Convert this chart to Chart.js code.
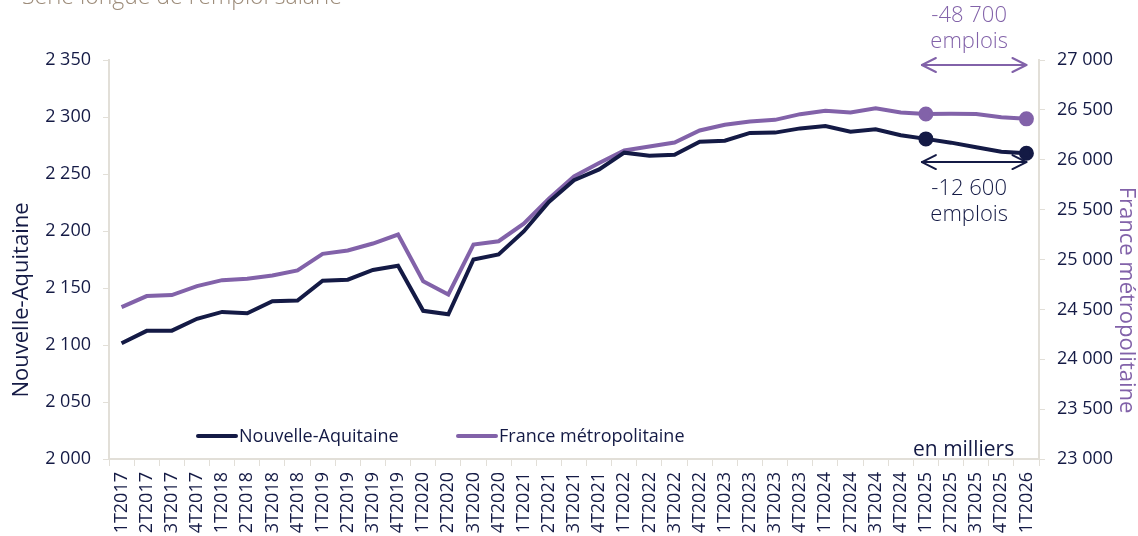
<!DOCTYPE html>
<html>
<head>
<meta charset="utf-8">
<script src="https://cdn.jsdelivr.net/npm/chart.js@4.4.1/dist/chart.umd.min.js"></script>
<style>
html,body{margin:0;padding:0;background:#fff;}
#wrap{width:1138px;height:536px;position:relative;}
</style>
</head>
<body>
<div id="wrap"><canvas id="c" width="1138" height="536"></canvas></div>
<script>
const categories = ["1T2017","2T2017","3T2017","4T2017","1T2018","2T2018","3T2018","4T2018","1T2019","2T2019","3T2019","4T2019","1T2020","2T2020","3T2020","4T2020","1T2021","2T2021","3T2021","4T2021","1T2022","2T2022","3T2022","4T2022","1T2023","2T2023","3T2023","4T2023","1T2024","2T2024","3T2024","4T2024","1T2025","2T2025","3T2025","4T2025","1T2026"];
const nouvelleAquitaine = [2101.5,2112.4,2112.6,2123.0,2129.0,2127.8,2138.4,2139.0,2156.4,2157.3,2165.8,2169.6,2130.0,2127.0,2175.0,2179.4,2199.6,2225.5,2244.6,2254.0,2268.7,2266.0,2266.8,2278.3,2279.2,2286.0,2286.3,2290.0,2292.0,2287.0,2289.2,2284.0,2280.8,2277.5,2273.5,2269.6,2268.2];
const franceMetro = [24523,24633,24643,24733,24793,24807,24840,24890,25057,25090,25160,25250,24783,24650,25150,25183,25360,25610,25833,25967,26093,26133,26173,26293,26350,26383,26400,26457,26490,26473,26517,26473,26459,26460,26458,26427,26410];
const leftTicks = {min:2000, max:2350, step:50};
const rightTicks = {min:23000, max:27000, step:500};
const seriesNames = ["Nouvelle-Aquitaine","France métropolitaine"];
const markedIdx = [32,36];
const annotations = [
  {axis:'y2', value:26950, from:32, to:36, lines:["-48 700","emplois"], color:'#8262a9', textAbove:true},
  {axis:'y', value:2260.5, from:32, to:36, lines:["-12 600","emplois"], color:'#141a45', textAbove:false}
];
const titleText = "Série longue de l'emploi salarié";

const NAVY = '#141a45';
const PURPLE = '#8262a9';
const AXIS = '#e2dfd8';
const FONT = '"Open Sans", "Noto Sans", sans-serif';

function fmt(v){ return String(v).replace(/\B(?=(\d{3})+(?!\d))/g,' '); }
function radii(n){ return categories.map((_,i)=> markedIdx.includes(i) ? n : 0); }

const overlay = {
  id:'overlay',
  afterDraw(chart){
    const ctx = chart.ctx, xs = chart.scales.x;
    ctx.save();
    // clipped title
    ctx.font = '300 23px ' + FONT;
    ctx.fillStyle = '#9d8c7a';
    ctx.textAlign='left'; ctx.textBaseline='alphabetic';
    ctx.fillText(titleText, 22, 4);
    // axis titles
    ctx.font = '22px ' + FONT;
    ctx.fillStyle = NAVY;
    ctx.textAlign='center'; ctx.textBaseline='middle';
    ctx.save(); ctx.translate(22, 300); ctx.rotate(-Math.PI/2); ctx.fillText('Nouvelle-Aquitaine',0,0); ctx.restore();
    ctx.fillStyle = PURPLE;
    ctx.save(); ctx.translate(1126, 300); ctx.rotate(Math.PI/2); ctx.fillText('France métropolitaine',0,0); ctx.restore();
    // legend
    const ly = 436;
    ctx.font = '18px ' + FONT; ctx.textAlign='left'; ctx.textBaseline='middle';
    [[198, NAVY, seriesNames[0]],[458, PURPLE, seriesNames[1]]].forEach(([lx,col,txt])=>{
      ctx.strokeStyle=col; ctx.lineWidth=4; ctx.lineCap='round';
      ctx.beginPath(); ctx.moveTo(lx,ly); ctx.lineTo(lx+38,ly); ctx.stroke();
      ctx.fillStyle = NAVY; ctx.fillText(txt, lx+41, ly+1);
    });
    // en milliers
    ctx.font = '21px ' + FONT; ctx.fillStyle = NAVY; ctx.textAlign='left';
    ctx.fillText('en milliers', 913, 450);
    // annotations
    annotations.forEach(a=>{
      const y = chart.scales[a.axis].getPixelForValue(a.value);
      const x1 = xs.getPixelForValue(a.from)-4, x2 = xs.getPixelForValue(a.to);
      ctx.strokeStyle=a.color; ctx.lineWidth=2; ctx.lineCap='round'; ctx.lineJoin='round';
      ctx.beginPath(); ctx.moveTo(x1,y); ctx.lineTo(x2,y); ctx.stroke();
      ctx.beginPath(); ctx.moveTo(x1+14,y-7); ctx.lineTo(x1,y); ctx.lineTo(x1+14,y+7); ctx.stroke();
      ctx.beginPath(); ctx.moveTo(x2-14,y-7); ctx.lineTo(x2,y); ctx.lineTo(x2-14,y+7); ctx.stroke();
      const cx = (x1+x2)/2 - 5;
      ctx.font = '300 22px ' + FONT; ctx.fillStyle = a.color; ctx.textAlign='center'; ctx.textBaseline='middle';
      if(a.textAbove){
        ctx.fillText(a.lines[0], cx, y-49); ctx.fillText(a.lines[1], cx, y-23);
      } else {
        ctx.fillText(a.lines[0], cx, y+27); ctx.fillText(a.lines[1], cx, y+53);
      }
    });
    ctx.restore();
  }
};

new Chart(document.getElementById('c'), {
  type:'line',
  data:{
    labels: categories,
    datasets:[
      {label:seriesNames[1], data:franceMetro, yAxisID:'y2', borderColor:PURPLE, backgroundColor:PURPLE, borderWidth:4, pointRadius:radii(5.5), pointHoverRadius:0, tension:0, order:2},
      {label:seriesNames[0], data:nouvelleAquitaine, yAxisID:'y', borderColor:NAVY, backgroundColor:NAVY, borderWidth:4, pointRadius:radii(5.5), pointHoverRadius:0, tension:0, order:1}
    ]
  },
  options:{
    responsive:false, animation:false, devicePixelRatio:1,
    layout:{padding:{top:60,left:0,right:0,bottom:0}},
    plugins:{legend:{display:false}, tooltip:{enabled:false}, title:{display:false}},
    scales:{
      x:{
        type:'category', offset:true,
        grid:{offset:true, drawOnChartArea:false, drawTicks:true, tickLength:7, color:AXIS, lineWidth:1},
        border:{display:true, color:AXIS, width:2},
        ticks:{autoSkip:false, maxRotation:90, minRotation:90, padding:6, color:NAVY, font:{family:FONT, size:18}},
        afterFit(s){ s.height = 77; }
      },
      y:{
        position:'left', min:leftTicks.min, max:leftTicks.max,
        grid:{drawOnChartArea:false, drawTicks:true, tickLength:6, color:AXIS},
        border:{display:true, color:AXIS, width:2},
        ticks:{stepSize:leftTicks.step, padding:12, color:NAVY, font:{family:FONT, size:18}, callback:v=>fmt(v)},
        afterFit(s){ s.width = 109; }
      },
      y2:{
        position:'right', min:rightTicks.min, max:rightTicks.max,
        grid:{drawOnChartArea:false, drawTicks:true, tickLength:6, color:AXIS},
        border:{display:true, color:AXIS, width:2},
        ticks:{stepSize:rightTicks.step, padding:12, color:NAVY, font:{family:FONT, size:18}, callback:v=>fmt(v)},
        afterFit(s){ s.width = 99; }
      }
    }
  },
  plugins:[overlay]
});
</script>
</body>
</html>
